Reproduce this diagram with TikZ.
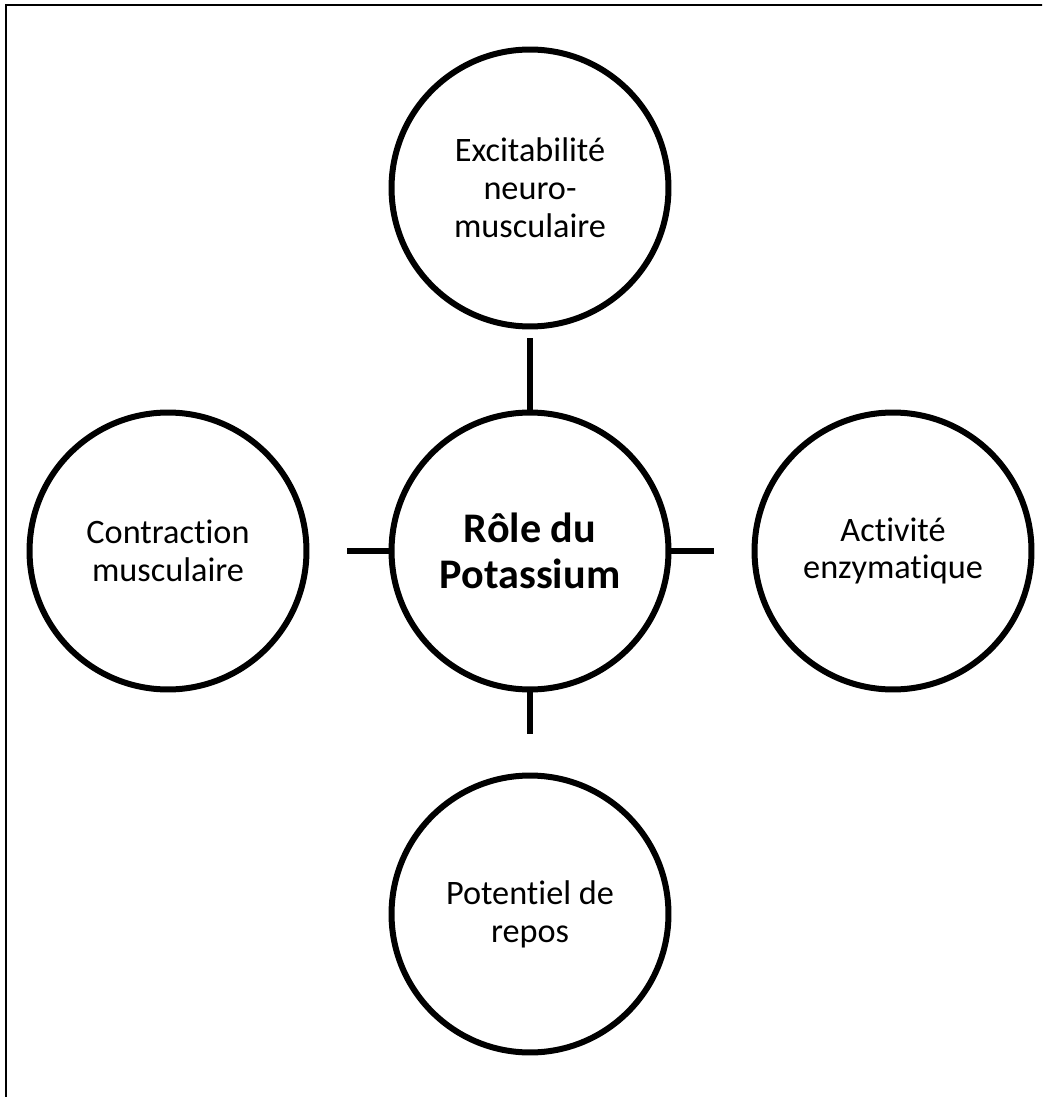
\documentclass[tikz,border=0pt]{standalone}
\usepackage{fontspec}
\setmainfont{Carlito}[Ligatures=NoCommon]

\begin{document}
\begin{tikzpicture}[x=0.02cm,y=-0.02cm,
			rond/.style={circle,draw,line width=0.12cm,minimum size=5.54cm,inner sep=0pt,align=center,font=\fontsize{19.5}{21.5}\selectfont},
			lien/.style={line width=0.12cm}]
			\useasboundingbox (0,0) rectangle (1042,1097);
			\clip (0,0) rectangle (1042,1097);
			\draw[line width=0.05cm] (6,1120) -- (6,5) -- (1060,5);
			\node[rond,font=\fontsize{24}{26}\selectfont\bfseries] (role) at (530,551) {Rôle du\\Potassium};
			\node[rond] (excit) at (530,188) {Excitabilité\\neuro-\\musculaire};
			\node[rond] (contr) at (168,551) {Contraction\\musculaire};
			\node[rond] (enzym) at (893,551) {Activité\\enzymatique};
			\node[rond] (repos) at (530,914) {Potentiel de\\repos};
			\draw[lien,shorten >=0.18cm] (role) -- (excit);
			\draw[lien,shorten >=0.76cm] (role) -- (contr);
			\draw[lien,shorten >=0.76cm] (role) -- (enzym);
			\draw[lien,shorten >=0.78cm] (role) -- (repos);
		\end{tikzpicture}
\end{document}
